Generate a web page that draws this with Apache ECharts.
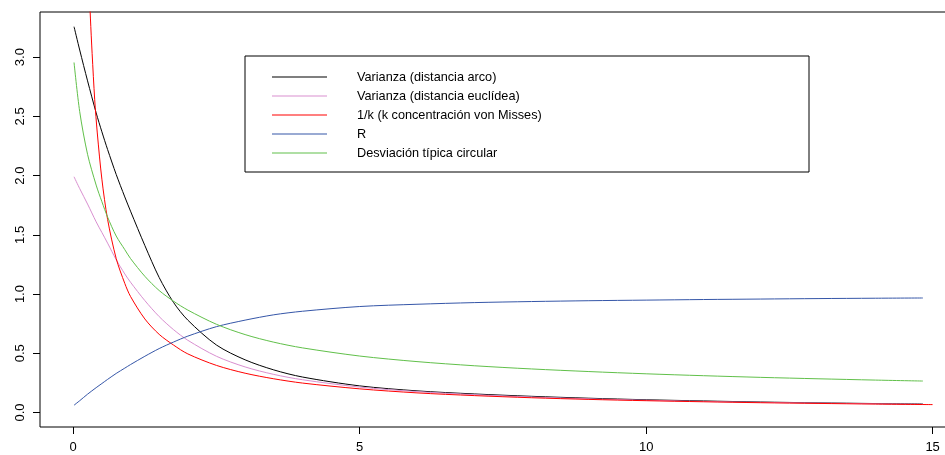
<!DOCTYPE html>
<html>
<head>
<meta charset="utf-8">
<script src="https://cdn.jsdelivr.net/npm/echarts@6/dist/echarts.min.js"></script>
<style>
html,body{margin:0;padding:0;background:#fff;}
#c{width:945px;height:455px;}
</style>
</head>
<body>
<div id="c"></div>
<script>
// x grid shared by four curves
const xs = [0.014, 0.113, 0.25, 0.4, 0.5, 0.6, 0.75, 0.9, 1, 1.25, 1.5, 1.75, 2, 2.5, 3, 3.5, 4, 5, 6, 7, 8, 9, 10, 11, 12, 13, 14, 14.83];
const varArco = [3.257, 3.06, 2.80, 2.53, 2.37, 2.22, 2.01, 1.82, 1.70, 1.41, 1.14, 0.93, 0.78, 0.57, 0.445, 0.36, 0.30, 0.225, 0.183, 0.157, 0.137, 0.121, 0.108, 0.098, 0.089, 0.082, 0.076, 0.072];
const varEucl = [1.99, 1.89, 1.76, 1.61, 1.52, 1.43, 1.29, 1.17, 1.10, 0.945, 0.81, 0.70, 0.61, 0.475, 0.385, 0.322, 0.277, 0.215, 0.177, 0.151, 0.131, 0.116, 0.104, 0.094, 0.086, 0.080, 0.074, 0.070];
const rVals = [0.062, 0.10, 0.155, 0.21, 0.245, 0.28, 0.33, 0.375, 0.405, 0.475, 0.54, 0.595, 0.645, 0.725, 0.78, 0.825, 0.855, 0.895, 0.914, 0.928, 0.937, 0.944, 0.949, 0.954, 0.958, 0.962, 0.965, 0.967];
const desvCirc = [2.955, 2.54, 2.18, 1.92, 1.78, 1.65, 1.49, 1.375, 1.30, 1.15, 1.03, 0.94, 0.865, 0.745, 0.658, 0.594, 0.546, 0.477, 0.430, 0.395, 0.368, 0.346, 0.327, 0.311, 0.297, 0.285, 0.274, 0.266];
// 1/k curve on its own x grid
const invKx = [0.25, 0.28, 0.3, 0.33, 0.375, 0.42, 0.5, 0.6, 0.75, 0.9, 1, 1.25, 1.5, 1.75, 2, 2.5, 3, 3.5, 4, 5, 6, 7, 8, 9, 10, 11, 12, 13, 14, 15];
const invK = [4.0, 3.57, 3.33, 3.03, 2.64, 2.36, 1.97, 1.63, 1.30, 1.09, 0.98, 0.79, 0.66, 0.57, 0.495, 0.398, 0.332, 0.285, 0.249, 0.2, 0.166, 0.143, 0.125, 0.111, 0.1, 0.091, 0.083, 0.077, 0.0715, 0.067];

const names = ['Varianza (distancia arco)', 'Varianza (distancia euclídea)', '1/k (k concentración von Misses)', 'R', 'Desviación típica circular'];
const colors = ['#000000', '#D98FD0', '#FF0000', '#3556A8', '#61C04A'];
const xTicks = [0, 5, 10, 15];
const yTicks = [0, 0.5, 1, 1.5, 2, 2.5, 3];

const zip = (a, b) => a.map((v, i) => [v, b[i]]);
const seriesData = [zip(xs, varArco), zip(xs, varEucl), zip(invKx, invK), zip(xs, rVals), zip(xs, desvCirc)];

const font = 'Liberation Sans, Arial, Helvetica, sans-serif';
const chart = echarts.init(document.getElementById('c'), null, {renderer: 'canvas'});
chart.setOption({
  animation: false,
  backgroundColor: '#fff',
  grid: {left: 40, top: 12, width: 927, height: 415, show: true, borderColor: '#000', borderWidth: 1,
    backgroundColor: 'transparent', outerBoundsMode: 'none', containLabel: false},
  xAxis: {
    type: 'value', min: -0.58, max: 15.6, position: 'bottom',
    axisLine: {show: false, onZero: false}, splitLine: {show: false},
    axisTick: {show: true, customValues: xTicks, length: 7, lineStyle: {color: '#000', width: 1}},
    axisLabel: {customValues: xTicks, margin: 14, color: '#000', fontSize: 13, fontFamily: font}
  },
  yAxis: {
    type: 'value', min: -0.122, max: 3.381, position: 'left',
    axisLine: {show: false, onZero: false}, splitLine: {show: false},
    axisTick: {show: true, customValues: yTicks, length: 7, lineStyle: {color: '#000', width: 1}},
    axisLabel: {customValues: yTicks, rotate: 90, margin: 13, color: '#000', fontSize: 13, fontFamily: font,
      formatter: v => v.toFixed(1)}
  },
  legend: {
    orient: 'vertical', left: 245, top: 56,
    data: names, icon: 'rect', itemWidth: 55, itemHeight: 1, itemGap: 5,
    padding: [14, 12, 12, 27],
    borderColor: '#000', borderWidth: 1, backgroundColor: '#fff',
    selectedMode: false,
    textStyle: {fontSize: 12.7, fontFamily: font, color: '#000', lineHeight: 14, width: 440, padding: [0, 0, 0, 25]}
  },
  series: names.map((n, i) => ({
    name: n, type: 'line', data: seriesData[i], showSymbol: false, smooth: 0.3,
    clip: true, color: colors[i], lineStyle: {width: 1, color: colors[i]}, itemStyle: {color: colors[i]}
  }))
});
</script>
</body>
</html>
